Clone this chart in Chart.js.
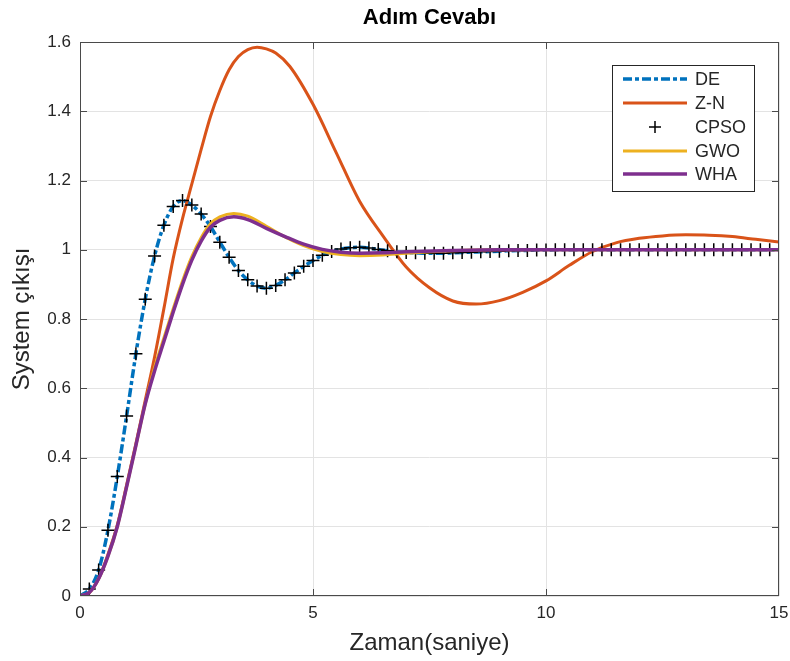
<!DOCTYPE html>
<html>
<head>
<meta charset="utf-8">
<script src="https://cdn.jsdelivr.net/npm/chart.js@4/dist/chart.umd.min.js"></script>
<style>
  body { margin: 0; background: #fff; }
  canvas { display: block; }
</style>
</head>
<body>
<canvas id="chart" width="790" height="661"></canvas>
<script>
// Adım cevabı verileri

// DE ve CPSO örnek zamanları [s]
const sampleTime = [
  0, 0.2, 0.4, 0.6, 0.8, 1.0, 1.2, 1.4, 1.6, 1.8,
  2.0, 2.2, 2.4, 2.6, 2.8, 3.0, 3.2, 3.4, 3.6, 3.8,
  4.0, 4.2, 4.4, 4.6, 4.8, 5.0, 5.2, 5.4, 5.6, 5.8,
  6.0, 6.2, 6.4, 6.6, 6.8, 7.0, 7.2, 7.4, 7.6, 7.8,
  8.0, 8.2, 8.4, 8.6, 8.8, 9.0, 9.2, 9.4, 9.6, 9.8,
  10.0, 10.2, 10.4, 10.6, 10.8, 11.0, 11.2, 11.4, 11.6, 11.8,
  12.0, 12.2, 12.4, 12.6, 12.8, 13.0, 13.2, 13.4, 13.6, 13.8,
  14.0, 14.2, 14.4, 14.6, 14.8, 15.0
];

const deValues = [
  0, 0.02, 0.075, 0.19, 0.345, 0.52, 0.70, 0.857, 0.982, 1.071,
  1.125, 1.142, 1.129, 1.103, 1.067, 1.022, 0.978, 0.94, 0.913, 0.895,
  0.889, 0.897, 0.913, 0.933, 0.952, 0.969, 0.984, 0.995, 1.002, 1.006,
  1.007, 1.005, 1.001, 0.997, 0.994, 0.992, 0.991, 0.99, 0.99, 0.99,
  0.991, 0.992, 0.993, 0.994, 0.995, 0.996, 0.997, 0.998, 0.998, 0.999,
  0.999, 1, 1, 1, 1, 1, 1, 1, 1, 1,
  1, 1, 1, 1, 1, 1, 1, 1, 1, 1,
  1, 1, 1, 1, 1, 1
];

const cpsoValues = [
  0, 0.02, 0.075, 0.19, 0.345, 0.52, 0.70, 0.857, 0.982, 1.071,
  1.125, 1.142, 1.129, 1.103, 1.067, 1.022, 0.978, 0.94, 0.913, 0.895,
  0.889, 0.897, 0.913, 0.933, 0.952, 0.969, 0.984, 0.995, 1.002, 1.006,
  1.007, 1.005, 1.001, 0.997, 0.994, 0.992, 0.991, 0.99, 0.99, 0.99,
  0.991, 0.992, 0.993, 0.994, 0.995, 0.996, 0.997, 0.998, 0.998, 0.999,
  0.999, 1, 1, 1, 1, 1, 1, 1, 1, 1,
  1, 1, 1, 1, 1, 1, 1, 1, 1, 1,
  1, 1, 1, 1, 1, 1
];

// Z-N
const znTime = [
  0, 0.2, 0.4, 0.6, 0.8, 1.0, 1.2, 1.4, 1.6, 1.8,
  2.0, 2.2, 2.4, 2.6, 2.8, 3.0, 3.2, 3.4, 3.6, 3.8,
  4.0, 4.2, 4.5, 5.0, 5.5, 6.0, 6.5, 7.0, 7.5, 8.0,
  8.5, 9.0, 9.5, 10.0, 10.5, 11.0, 11.5, 12.0, 12.5, 13.0,
  13.5, 14.0, 14.5, 15.0
];
const znValues = [
  0, 0.01, 0.05, 0.12, 0.205, 0.32, 0.44, 0.565, 0.69, 0.83,
  0.975, 1.09, 1.19, 1.29, 1.385, 1.46, 1.52, 1.558, 1.578, 1.585,
  1.58, 1.568, 1.53, 1.42, 1.28, 1.14, 1.04, 0.95, 0.89, 0.852,
  0.843, 0.853, 0.877, 0.91, 0.955, 0.995, 1.02, 1.033, 1.04, 1.043,
  1.042, 1.038, 1.03, 1.022
];

// GWO ve WHA
const optTime = [
  0, 0.2, 0.4, 0.6, 0.8, 1.0, 1.2, 1.4, 1.6, 1.8,
  2.0, 2.2, 2.4, 2.6, 2.8, 3.0, 3.3, 3.6, 4.0, 4.4,
  4.8, 5.2, 5.6, 6.0, 6.5, 7.0, 8.0, 9.0, 10, 11,
  12, 13, 14, 15
];
const gwoValues = [
  0, 0.01, 0.05, 0.115, 0.2, 0.315, 0.435, 0.555, 0.66, 0.745,
  0.83, 0.91, 0.98, 1.035, 1.075, 1.095, 1.105, 1.097, 1.068, 1.037,
  1.012, 0.995, 0.986, 0.983, 0.985, 0.99, 0.997, 1, 1, 1,
  1, 1, 1, 1
];
const whaValues = [
  0, 0.01, 0.05, 0.115, 0.2, 0.315, 0.435, 0.555, 0.65, 0.735,
  0.82, 0.9, 0.97, 1.025, 1.065, 1.085, 1.095, 1.087, 1.062, 1.038,
  1.016, 1.001, 0.993, 0.99, 0.991, 0.994, 0.998, 1, 1, 1,
  1, 1, 1, 1
];

const xTicks = [0, 5, 10, 15];
const yTicks = [0, 0.2, 0.4, 0.6, 0.8, 1, 1.2, 1.4, 1.6];
const chartTitle = "Adım Cevabı";

const toXY = (ts, vs) => ts.map((t, i) => ({ x: t, y: vs[i] }));

const AXIS_COLOR = "#262626";
const FONT = "'Liberation Sans', Arial, Helvetica, sans-serif";

// MATLAB tarzı başlık, çerçeve, içe dönük tik çizgileri ve lejant
const matlabFrame = {
  id: "matlabFrame",
  afterDraw(chart) {
    const { ctx, chartArea: a, scales } = chart;
    ctx.save();

    // başlık, eksen alanının ortasında
    ctx.fillStyle = "#000";
    ctx.font = "bold 22px " + FONT;
    ctx.textAlign = "center";
    ctx.textBaseline = "middle";
    ctx.fillText(chartTitle, (a.left + a.right) / 2, 18);
    ctx.textAlign = "left";

    ctx.strokeStyle = "#4a4a4a";
    ctx.lineWidth = 1;
    ctx.strokeRect(a.left + 0.5, a.top + 0.5, a.right - a.left - 1, a.bottom - a.top - 1);

    const tl = 7;
    ctx.beginPath();
    xTicks.slice(1, -1).forEach((t) => {
      const px = Math.round(scales.x.getPixelForValue(t)) + 0.5;
      ctx.moveTo(px, a.bottom);
      ctx.lineTo(px, a.bottom - tl);
      ctx.moveTo(px, a.top);
      ctx.lineTo(px, a.top + tl);
    });
    yTicks.slice(1, -1).forEach((t) => {
      const py = Math.round(scales.y.getPixelForValue(t)) + 0.5;
      ctx.moveTo(a.left, py);
      ctx.lineTo(a.left + tl, py);
      ctx.moveTo(a.right, py);
      ctx.lineTo(a.right - tl, py);
    });
    ctx.stroke();

    // lejant
    const box = { x: 612, y: 65, w: 142, h: 126 };
    ctx.fillStyle = "#fff";
    ctx.fillRect(box.x, box.y, box.w, box.h);
    ctx.strokeStyle = AXIS_COLOR;
    ctx.lineWidth = 1;
    ctx.strokeRect(box.x + 0.5, box.y + 0.5, box.w, box.h);

    const rowY = [79, 103, 127, 151, 174];
    const lineX0 = 623, lineX1 = 687, textX = 695;
    ctx.font = "18px " + FONT;
    ctx.textBaseline = "middle";
    chart.data.datasets.forEach((ds, i) => {
      const y = rowY[i];
      if (ds.showLine === false) {
        ctx.strokeStyle = ds.borderColor;
        ctx.lineWidth = 1.5;
        ctx.beginPath();
        const cx = (lineX0 + lineX1) / 2;
        ctx.moveTo(cx - 6, y);
        ctx.lineTo(cx + 6, y);
        ctx.moveTo(cx, y - 6);
        ctx.lineTo(cx, y + 6);
        ctx.stroke();
      } else {
        ctx.strokeStyle = ds.borderColor;
        ctx.lineWidth = ds.borderWidth;
        ctx.setLineDash(ds.borderDash || []);
        ctx.beginPath();
        ctx.moveTo(lineX0, y);
        ctx.lineTo(lineX1, y);
        ctx.stroke();
        ctx.setLineDash([]);
      }
      ctx.fillStyle = AXIS_COLOR;
      ctx.fillText(ds.label, textX, y + 1);
    });
    ctx.restore();
  },
};

new Chart(document.getElementById("chart"), {
  type: "line",
  data: {
    datasets: [
      {
        label: "DE",
        data: toXY(sampleTime, deValues),
        borderColor: "#0072BD",
        borderWidth: 3.5,
        borderDash: [9, 3, 4, 3],
        pointRadius: 0,
        cubicInterpolationMode: "monotone",
        order: 5,
      },
      {
        label: "Z-N",
        data: toXY(znTime, znValues),
        borderColor: "#D95319",
        borderWidth: 3,
        pointRadius: 0,
        cubicInterpolationMode: "monotone",
        order: 4,
      },
      {
        label: "CPSO",
        data: toXY(sampleTime, cpsoValues),
        showLine: false,
        borderColor: "#000",
        backgroundColor: "#000",
        pointStyle: "cross",
        pointRadius: 6.5,
        pointBorderWidth: 1.5,
        order: 3,
      },
      {
        label: "GWO",
        data: toXY(optTime, gwoValues),
        borderColor: "#EDB120",
        borderWidth: 3,
        pointRadius: 0,
        cubicInterpolationMode: "monotone",
        order: 2,
      },
      {
        label: "WHA",
        data: toXY(optTime, whaValues),
        borderColor: "#7E2F8E",
        borderWidth: 3.5,
        pointRadius: 0,
        cubicInterpolationMode: "monotone",
        order: 1,
      },
    ],
  },
  options: {
    responsive: false,
    animation: false,
    layout: { padding: { top: 42, right: 11, left: 0, bottom: 0 } },
    plugins: {
      legend: { display: false },
      tooltip: { enabled: false },
      title: { display: false },
    },
    scales: {
      x: {
        type: "linear",
        min: 0,
        max: 15,
        afterBuildTicks: (s) => { s.ticks = xTicks.map((v) => ({ value: v })); },
        afterFit: (s) => { s.height = 65; s.paddingRight = 0; s.paddingLeft = 0; },
        grid: { color: "#e3e3e3", drawTicks: false },
        border: { display: false },
        ticks: {
          color: AXIS_COLOR,
          padding: 7,
          maxRotation: 0,
          font: { family: FONT, size: 17 },
          callback: (v) => String(v),
        },
        title: {
          display: true,
          text: "Zaman(saniye)",
          color: AXIS_COLOR,
          font: { family: FONT, size: 24, lineHeight: 1.2 },
          padding: { top: 0, bottom: 3 },
        },
      },
      y: {
        min: 0,
        max: 1.6,
        afterBuildTicks: (s) => { s.ticks = yTicks.map((v) => ({ value: v })); },
        afterFit: (s) => { s.width = 80; s.paddingTop = 0; s.paddingBottom = 0; },
        grid: { color: "#e3e3e3", drawTicks: false },
        border: { display: false },
        ticks: {
          color: AXIS_COLOR,
          padding: 9,
          font: { family: FONT, size: 17 },
          callback: (v) => String(+v.toFixed(1)),
        },
        title: {
          display: true,
          text: "System çıkışı",
          color: AXIS_COLOR,
          font: { family: FONT, size: 24, lineHeight: 1.2 },
          padding: { top: 8, bottom: 0 },
        },
      },
    },
  },
  plugins: [matlabFrame],
});
</script>
</body>
</html>
